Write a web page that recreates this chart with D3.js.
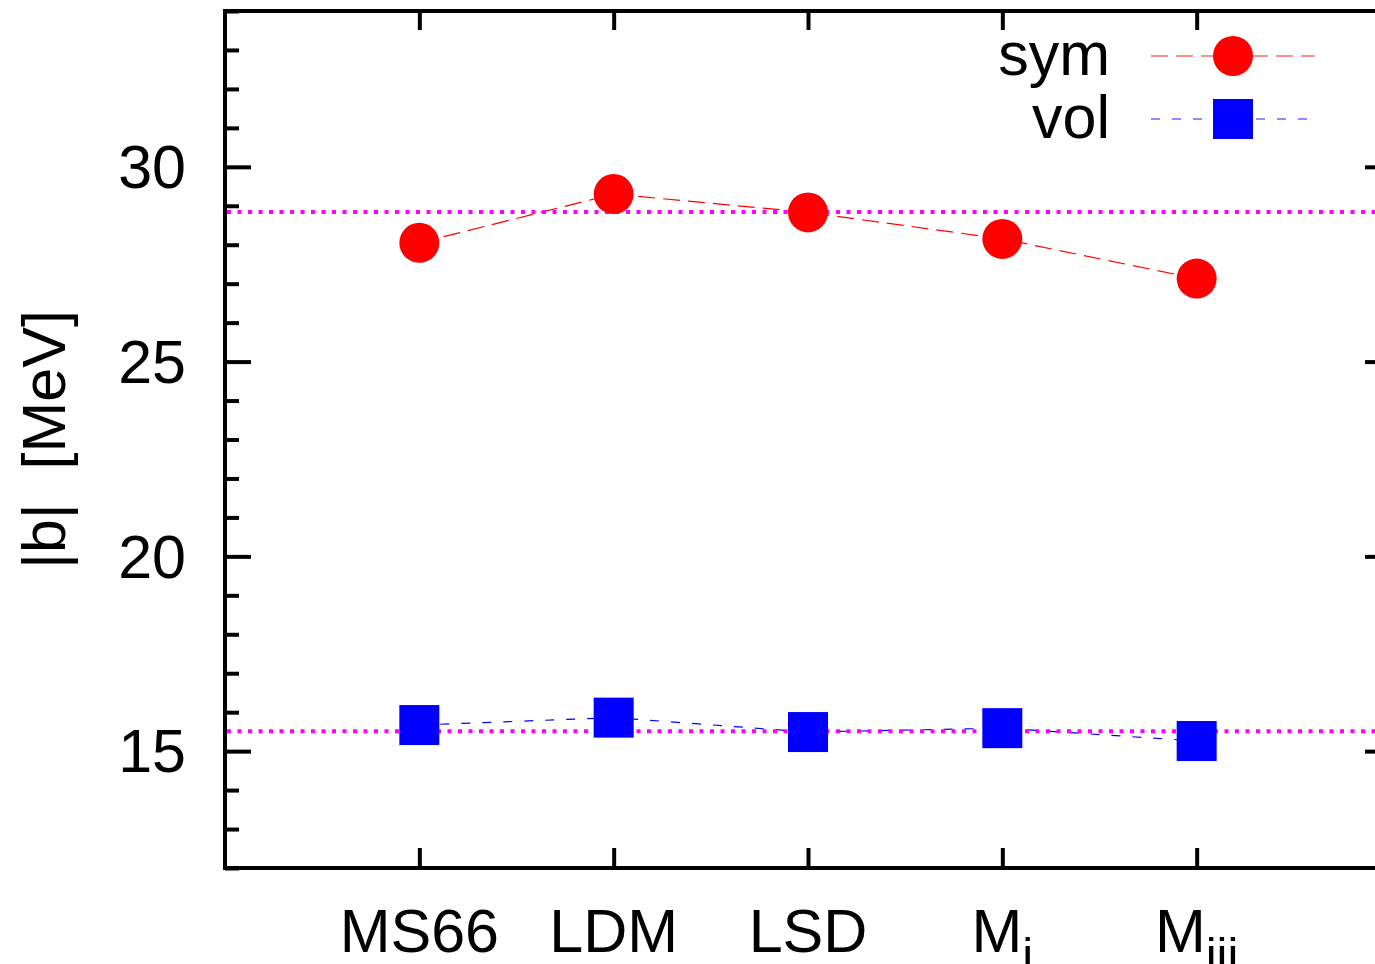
<!DOCTYPE html>
<html>
<head>
<meta charset="utf-8">
<script src="https://cdn.jsdelivr.net/npm/d3@7"></script>
<style>
  body { margin: 0; background: #fff; }
  svg { display: block; font-family: "Liberation Sans", Arial, sans-serif; }
</style>
</head>
<body>
<svg id="chart" width="1375" height="964"></svg>
<script>
// categories (label "_" marks a subscript)
const categories = ["MS66", "LDM", "LSD", "M_i", "M_iii"];
const symValues = [28.05, 29.30, 28.83, 28.15, 27.13];
const volValues = [15.67, 15.86, 15.49, 15.59, 15.26];
const refLines = [28.84, 15.51];
const majorTicks = [15, 20, 25, 30];
const minorTicks = d3.range(12, 35).filter(v => !majorTicks.includes(v));

const svg = d3.select('#chart');
const plotLeft = 225, plotRight = 1391, plotTop = 11, plotBottom = 868;

const xScale = d3.scaleLinear().domain([0, 6]).range([plotLeft, plotRight]);
const yScale = d3.scaleLinear().domain([12, 34]).range([plotBottom, plotTop]);
const xPos = (d, i) => xScale(i + 1);

// axes: ticks point inward on all four sides
function styleAxis(g) {
    g.select('.domain').remove();
    g.selectAll('line').attr('stroke', '#000').attr('stroke-width', 4);
}

svg.append('g').attr('transform', `translate(${plotLeft},0)`)
    .call(d3.axisLeft(yScale).tickValues(majorTicks).tickSize(-26).tickPadding(39))
    .call(styleAxis)
    .call(g => g.selectAll('text')
        .attr('font-size', 61)
        .attr('font-family', '"Liberation Sans", Arial, sans-serif')
        .attr('fill', '#000')
        .attr('dy', '0.34em'));
svg.append('g').attr('transform', `translate(${plotLeft},0)`)
    .call(d3.axisLeft(yScale).tickValues(minorTicks).tickSize(-14).tickFormat(''))
    .call(styleAxis);
svg.append('g').attr('transform', `translate(${plotRight},0)`)
    .call(d3.axisRight(yScale).tickValues(majorTicks).tickSize(-26).tickFormat(''))
    .call(styleAxis);
svg.append('g').attr('transform', `translate(${plotRight},0)`)
    .call(d3.axisRight(yScale).tickValues(minorTicks).tickSize(-14).tickFormat(''))
    .call(styleAxis);
svg.append('g').attr('transform', `translate(0,${plotBottom})`)
    .call(d3.axisBottom(xScale).tickValues(d3.range(1, 6)).tickSize(-20).tickFormat(''))
    .call(styleAxis);
svg.append('g').attr('transform', `translate(0,${plotTop})`)
    .call(d3.axisTop(xScale).tickValues(d3.range(1, 6)).tickSize(-19).tickFormat(''))
    .call(styleAxis);

svg.append('rect')
    .attr('x', plotLeft).attr('y', plotTop)
    .attr('width', plotRight - plotLeft).attr('height', plotBottom - plotTop)
    .attr('fill', 'none').attr('stroke', '#000').attr('stroke-width', 4);

// category labels with subscripts
const xLabels = svg.append('g');
categories.forEach((c, i) => {
    const [main, sub] = c.split('_');
    const t = xLabels.append('text')
        .attr('x', xScale(i + 1)).attr('y', 952)
        .attr('text-anchor', 'middle')
        .attr('font-size', 61)
        .text(main);
    if (sub) {
        t.append('tspan').attr('font-size', 49).attr('dy', 20).text(sub);
    }
});

// y axis title
svg.append('text')
    .attr('transform', `translate(65,${(plotTop + plotBottom) / 2}) rotate(-90)`)
    .attr('text-anchor', 'middle')
    .attr('font-size', 61)
    .style('white-space', 'pre')
    .text('|b|  [MeV]');

// series lines
const line = d3.line().x(xPos).y(d => yScale(d));
svg.append('path').datum(symValues)
    .attr('d', line).attr('fill', 'none')
    .attr('stroke', '#f00').attr('stroke-width', 1.2).attr('stroke-dasharray', '17,8');
svg.append('path').datum(volValues)
    .attr('d', line).attr('fill', 'none')
    .attr('stroke', '#00f').attr('stroke-width', 1.2).attr('stroke-dasharray', '9,12');

// reference (dotted magenta) lines
svg.selectAll('.refline').data(refLines).join('line')
    .classed('refline', true)
    .attr('x1', plotLeft + 2).attr('x2', plotRight)
    .attr('y1', d => yScale(d)).attr('y2', d => yScale(d))
    .attr('stroke', '#f0f').attr('stroke-width', 4).attr('stroke-dasharray', '4,6.5');

// markers
svg.selectAll('.symdot').data(symValues).join('circle')
    .classed('symdot', true)
    .attr('cx', xPos).attr('cy', d => yScale(d)).attr('r', 20)
    .attr('fill', '#f00');
svg.selectAll('.volsq').data(volValues).join('rect')
    .classed('volsq', true)
    .attr('x', (d, i) => xPos(d, i) - 20).attr('y', d => yScale(d) - 20)
    .attr('width', 40).attr('height', 40)
    .attr('fill', '#00f');

// legend
const legend = [
    {name: 'sym', color: '#f00', dash: '17,8', y: 56, shape: 'circle'},
    {name: 'vol', color: '#00f', dash: '9,12', y: 119, shape: 'square'}
];
legend.forEach(l => {
    svg.append('text')
        .attr('x', 1110).attr('y', l.y + 19)
        .attr('text-anchor', 'end')
        .attr('font-size', 61)
        .text(l.name);
    svg.append('line')
        .attr('x1', 1151).attr('x2', 1315)
        .attr('y1', l.y).attr('y2', l.y)
        .attr('stroke', l.color).attr('stroke-opacity', 0.6)
        .attr('stroke-width', 1.5).attr('stroke-dasharray', l.dash);
    if (l.shape === 'circle') {
        svg.append('circle').attr('cx', 1233).attr('cy', l.y).attr('r', 20).attr('fill', l.color);
    } else {
        svg.append('rect').attr('x', 1213).attr('y', l.y - 20)
            .attr('width', 40).attr('height', 40).attr('fill', l.color);
    }
});
</script>
</body>
</html>
